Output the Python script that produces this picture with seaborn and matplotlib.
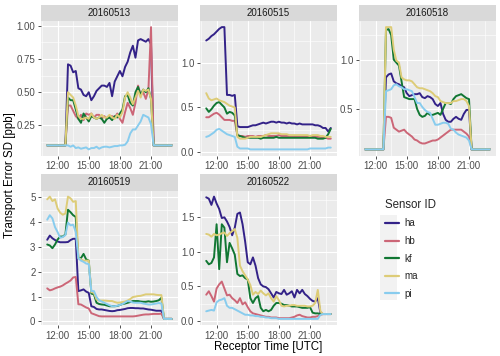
import numpy as np
import pandas as pd
import matplotlib
matplotlib.use("Agg")
import matplotlib.pyplot as plt
from matplotlib.ticker import FixedLocator, MultipleLocator, FuncFormatter
from matplotlib.patches import Rectangle
import seaborn as sns

# receptor time grid (hours UTC, 15 min steps)
hours = np.arange(11.0, 23.01, 0.25)

days = ["20160513", "20160515", "20160518", "20160519", "20160522"]
sensors = ["ha", "hb", "kf", "ma", "pi"]
sensor_colors = ["#332288", "#CC6677", "#117733", "#DDCC77", "#88CCEE"]

# --- 20160513 ---
d0513_ha = [0.10, 0.10, 0.10, 0.10, 0.10, 0.10, 0.10, 0.10,
            0.71, 0.70, 0.65, 0.66, 0.53, 0.52, 0.48, 0.47, 0.50, 0.44, 0.47, 0.51,
            0.53, 0.55, 0.55, 0.54, 0.57, 0.47, 0.58, 0.62, 0.66, 0.62, 0.69, 0.73,
            0.80, 0.85, 0.76, 0.89, 0.90, 0.89, 0.88, 0.90, 0.86,
            0.10, 0.10, 0.10, 0.10, 0.10, 0.10, 0.10, 0.10]
d0513_hb = [0.10, 0.10, 0.10, 0.10, 0.10, 0.10, 0.10, 0.10,
            0.40, 0.40, 0.36, 0.32, 0.30, 0.33, 0.29, 0.34, 0.33, 0.34, 0.31, 0.33,
            0.33, 0.30, 0.32, 0.30, 0.32, 0.32, 0.31, 0.34, 0.30, 0.27, 0.35, 0.42,
            0.38, 0.33, 0.42, 0.55, 0.48, 0.50, 0.45, 0.52, 0.99,
            0.10, 0.10, 0.10, 0.10, 0.10, 0.10, 0.10, 0.10]
d0513_kf = [0.10, 0.10, 0.10, 0.10, 0.10, 0.10, 0.10, 0.10,
            0.46, 0.44, 0.44, 0.37, 0.30, 0.27, 0.34, 0.31, 0.28, 0.32, 0.31, 0.30,
            0.31, 0.30, 0.27, 0.30, 0.31, 0.29, 0.32, 0.31, 0.34, 0.37, 0.47, 0.48,
            0.42, 0.40, 0.50, 0.54, 0.48, 0.52, 0.50, 0.53, 0.45,
            0.10, 0.10, 0.10, 0.10, 0.10, 0.10, 0.10, 0.10]
d0513_ma = [0.10, 0.10, 0.10, 0.10, 0.10, 0.10, 0.10, 0.10,
            0.50, 0.48, 0.46, 0.40, 0.32, 0.30, 0.30, 0.31, 0.30, 0.34, 0.31, 0.30,
            0.31, 0.33, 0.31, 0.31, 0.33, 0.31, 0.30, 0.33, 0.31, 0.35, 0.46, 0.50,
            0.46, 0.41, 0.46, 0.51, 0.46, 0.52, 0.51, 0.52, 0.45,
            0.10, 0.10, 0.10, 0.10, 0.10, 0.10, 0.10, 0.10]
d0513_pi = [0.10, 0.10, 0.10, 0.10, 0.10, 0.10, 0.10, 0.10,
            0.10, 0.09, 0.10, 0.08, 0.085, 0.075, 0.08, 0.085, 0.07, 0.08, 0.08, 0.09,
            0.075, 0.085, 0.09, 0.09, 0.085, 0.09, 0.095, 0.095, 0.10, 0.10, 0.105, 0.13,
            0.19, 0.22, 0.22, 0.25, 0.28, 0.33, 0.32, 0.31, 0.26,
            0.10, 0.10, 0.10, 0.10, 0.10, 0.10, 0.10, 0.10]

# --- 20160515 ---
d0515_ha = [1.25, 1.27, 1.30, 1.32, 1.35, 1.38, 1.40, 1.40,
            0.64, 0.64, 0.63, 0.64, 0.29, 0.28, 0.28, 0.28, 0.28, 0.29, 0.30, 0.30,
            0.31, 0.32, 0.33, 0.32, 0.33, 0.34, 0.34, 0.33, 0.34, 0.33, 0.33, 0.32,
            0.33, 0.32, 0.32, 0.31, 0.32, 0.31, 0.31, 0.31, 0.31,
            0.31, 0.30, 0.30, 0.29, 0.27, 0.27, 0.23, 0.27]
d0515_hb = [0.39, 0.39, 0.41, 0.43, 0.44, 0.42, 0.39, 0.36,
            0.36, 0.36, 0.35, 0.35, 0.19, 0.18, 0.18, 0.17, 0.18, 0.18, 0.18, 0.17,
            0.18, 0.18, 0.18, 0.19, 0.18, 0.18, 0.18, 0.18, 0.19, 0.18, 0.18, 0.18,
            0.18, 0.18, 0.18, 0.17, 0.18, 0.18, 0.17, 0.18, 0.18,
            0.17, 0.17, 0.17, 0.17, 0.16, 0.16, 0.15, 0.15]
d0515_kf = [0.49, 0.45, 0.48, 0.52, 0.55, 0.56, 0.53, 0.50,
            0.43, 0.45, 0.44, 0.41, 0.19, 0.18, 0.17, 0.16, 0.16, 0.16, 0.16, 0.16,
            0.16, 0.15, 0.16, 0.16, 0.16, 0.16, 0.16, 0.17, 0.16, 0.16, 0.16, 0.16,
            0.16, 0.16, 0.16, 0.16, 0.16, 0.16, 0.16, 0.16, 0.16,
            0.16, 0.16, 0.15, 0.15, 0.15, 0.16, 0.20, 0.26]
d0515_ma = [0.66, 0.60, 0.58, 0.59, 0.60, 0.58, 0.57, 0.56,
            0.54, 0.52, 0.51, 0.50, 0.17, 0.15, 0.15, 0.15, 0.16, 0.17, 0.17, 0.17,
            0.17, 0.17, 0.18, 0.19, 0.20, 0.21, 0.21, 0.21, 0.21, 0.20, 0.20, 0.20,
            0.19, 0.19, 0.19, 0.19, 0.19, 0.19, 0.19, 0.19, 0.18,
            0.19, 0.19, 0.19, 0.18, 0.18, 0.17, 0.17, 0.17]
d0515_pi = [0.17, 0.18, 0.20, 0.22, 0.25, 0.26, 0.24, 0.22,
            0.20, 0.19, 0.18, 0.17, 0.06, 0.04, 0.04, 0.04, 0.04, 0.03, 0.03, 0.03,
            0.03, 0.03, 0.03, 0.03, 0.03, 0.03, 0.03, 0.03, 0.03, 0.03, 0.03, 0.03,
            0.03, 0.03, 0.03, 0.03, 0.03, 0.03, 0.03, 0.03, 0.04,
            0.04, 0.04, 0.04, 0.04, 0.04, 0.04, 0.05, 0.05]

# --- 20160518 ---
d0518_ha = [0.09, 0.09, 0.09, 0.09, 0.09, 0.09, 0.09, 0.09,
            0.82, 0.85, 0.86, 0.78, 0.76, 0.75, 0.73, 0.72, 0.66, 0.63, 0.64, 0.65,
            0.65, 0.66, 0.62, 0.61, 0.63, 0.62, 0.60, 0.55, 0.53, 0.56, 0.45, 0.39,
            0.37, 0.37, 0.40, 0.42, 0.40, 0.39, 0.45, 0.49, 0.49,
            0.09, 0.09, 0.09, 0.09, 0.09, 0.09, 0.09, 0.09]
d0518_hb = [0.09, 0.09, 0.09, 0.09, 0.09, 0.09, 0.09, 0.09,
            0.42, 0.42, 0.41, 0.31, 0.29, 0.27, 0.28, 0.29, 0.26, 0.24, 0.22, 0.19,
            0.18, 0.16, 0.15, 0.15, 0.16, 0.17, 0.18, 0.18, 0.19, 0.21, 0.23, 0.25,
            0.27, 0.29, 0.29, 0.29, 0.29, 0.29, 0.27, 0.25, 0.22,
            0.09, 0.09, 0.09, 0.09, 0.09, 0.09, 0.09, 0.09]
d0518_kf = [0.09, 0.09, 0.09, 0.09, 0.09, 0.09, 0.09, 0.09,
            1.30, 1.31, 1.25, 1.00, 0.97, 0.94, 0.78, 0.62, 0.61, 0.60, 0.60, 0.60,
            0.50, 0.44, 0.42, 0.43, 0.46, 0.44, 0.44, 0.45, 0.46, 0.44, 0.50, 0.56,
            0.56, 0.55, 0.60, 0.63, 0.64, 0.65, 0.63, 0.61, 0.60,
            0.09, 0.09, 0.09, 0.09, 0.09, 0.09, 0.09, 0.09]
d0518_ma = [0.09, 0.09, 0.09, 0.09, 0.09, 0.09, 0.09, 0.09,
            1.33, 1.33, 1.33, 1.10, 0.99, 0.97, 0.82, 0.80, 0.79, 0.79, 0.78, 0.75,
            0.72, 0.71, 0.71, 0.70, 0.69, 0.68, 0.66, 0.63, 0.62, 0.58, 0.57, 0.56,
            0.56, 0.56, 0.58, 0.58, 0.59, 0.60, 0.60, 0.58, 0.53,
            0.09, 0.09, 0.09, 0.09, 0.09, 0.09, 0.09, 0.09]
d0518_pi = [0.09, 0.09, 0.09, 0.09, 0.09, 0.09, 0.09, 0.09,
            0.68, 0.69, 0.70, 0.74, 0.75, 0.73, 0.72, 0.70, 0.70, 0.69, 0.68, 0.62,
            0.56, 0.56, 0.52, 0.49, 0.47, 0.46, 0.40, 0.34, 0.34, 0.35, 0.36, 0.36,
            0.35, 0.30, 0.29, 0.26, 0.24, 0.23, 0.22, 0.21, 0.18,
            0.09, 0.09, 0.09, 0.09, 0.09, 0.09, 0.09, 0.09]

# --- 20160519 ---
d0519_ha = [3.29, 3.46, 3.35, 3.28, 3.22, 3.19, 3.19, 3.19,
            3.20, 3.28, 3.33, 3.33, 1.22, 1.25, 1.29, 1.20, 1.15, 0.61, 0.58, 0.50,
            0.48, 0.48, 0.46, 0.44, 0.42, 0.41, 0.42, 0.45, 0.46, 0.48, 0.50, 0.53,
            0.54, 0.54, 0.53, 0.53, 0.52, 0.52, 0.50, 0.48, 0.47,
            0.45, 0.43, 0.43, 0.43, 0.10, 0.10, 0.10, 0.10]
d0519_hb = [1.33, 1.25, 1.28, 1.33, 1.37, 1.40, 1.45, 1.52,
            1.58, 1.65, 1.77, 1.79, 0.69, 0.68, 0.62, 0.56, 0.52, 0.33, 0.29, 0.25,
            0.21, 0.20, 0.20, 0.20, 0.20, 0.20, 0.20, 0.20, 0.20, 0.20, 0.20, 0.20,
            0.20, 0.20, 0.21, 0.23, 0.25, 0.27, 0.28, 0.28, 0.29,
            0.30, 0.30, 0.30, 0.31, 0.10, 0.10, 0.10, 0.10]
d0519_kf = [3.10, 3.06, 2.95, 3.10, 3.30, 3.42, 3.42, 3.50,
            4.50, 4.40, 4.28, 4.21, 2.55, 2.55, 2.72, 2.50, 2.45, 1.12, 1.09, 0.75,
            0.70, 0.68, 0.67, 0.64, 0.61, 0.61, 0.61, 0.62, 0.66, 0.70, 0.72, 0.75,
            0.78, 0.82, 0.82, 0.82, 0.80, 0.79, 0.79, 0.81, 0.79,
            0.80, 0.82, 0.85, 0.95, 0.10, 0.10, 0.10, 0.10]
d0519_ma = [4.92, 5.03, 4.85, 4.92, 4.55, 4.38, 4.30, 4.35,
            5.03, 4.96, 4.82, 4.85, 2.55, 2.50, 2.45, 2.45, 2.45, 1.18, 1.15, 0.88,
            0.84, 0.84, 0.84, 0.83, 0.82, 0.82, 0.78, 0.75, 0.76, 0.78, 0.80, 0.84,
            0.90, 0.98, 1.00, 1.02, 1.03, 1.06, 1.09, 1.09, 1.09,
            1.09, 1.07, 1.06, 1.06, 0.10, 0.10, 0.10, 0.10]
d0519_pi = [4.10, 4.28, 4.15, 3.80, 3.60, 3.37, 3.40, 3.48,
            3.98, 3.87, 3.90, 3.60, 2.55, 2.45, 2.40, 2.33, 2.31, 1.22, 1.22, 0.98,
            0.85, 0.80, 0.75, 0.70, 0.65, 0.61, 0.61, 0.63, 0.66, 0.70, 0.76, 0.82,
            0.80, 0.76, 0.75, 0.75, 0.75, 0.72, 0.70, 0.68, 0.68,
            0.70, 0.72, 0.74, 0.72, 0.10, 0.10, 0.10, 0.10]

# --- 20160522 ---
d0522_ha = [1.79, 1.77, 1.68, 1.80, 1.70, 1.62, 1.49, 1.50,
            1.44, 1.36, 1.24, 1.35, 1.55, 1.57, 1.40, 1.15, 0.85, 0.82, 0.92, 0.80,
            0.62, 0.53, 0.50, 0.49, 0.46, 0.40, 0.34, 0.42, 0.40, 0.39, 0.45, 0.38,
            0.40, 0.43, 0.34, 0.45, 0.40, 0.45, 0.39, 0.36, 0.32,
            0.29, 0.28, 0.33, 0.12, 0.10, 0.10, 0.10, 0.10]
d0522_hb = [0.38, 0.43, 0.36, 0.28, 0.47, 0.53, 0.57, 0.47,
            0.37, 0.38, 0.33, 0.30, 0.26, 0.33, 0.24, 0.27, 0.20, 0.14, 0.11, 0.10,
            0.09, 0.08, 0.07, 0.06, 0.06, 0.05, 0.05, 0.05, 0.04, 0.04, 0.04, 0.04,
            0.04, 0.05, 0.06, 0.08, 0.09, 0.07, 0.06, 0.05, 0.05,
            0.06, 0.06, 0.07, 0.09, 0.10, 0.10, 0.10, 0.10]
d0522_kf = [0.87, 0.82, 0.84, 0.92, 1.40, 0.75, 1.40, 1.35,
            0.85, 1.13, 1.05, 0.96, 0.68, 0.65, 0.66, 0.62, 0.60, 0.33, 0.26, 0.33,
            0.36, 0.19, 0.14, 0.16, 0.14, 0.16, 0.22, 0.26, 0.26, 0.25, 0.23, 0.23,
            0.22, 0.21, 0.21, 0.21, 0.20, 0.19, 0.19, 0.19, 0.20,
            0.12, 0.11, 0.11, 0.10, 0.10, 0.10, 0.10, 0.10]
d0522_ma = [1.26, 1.25, 1.22, 1.26, 1.24, 1.25, 1.27, 1.28,
            1.23, 1.27, 1.30, 1.33, 1.20, 0.80, 0.72, 0.66, 0.60, 0.52, 0.38, 0.42,
            0.39, 0.44, 0.40, 0.37, 0.40, 0.33, 0.28, 0.36, 0.30, 0.22, 0.21, 0.22,
            0.22, 0.23, 0.23, 0.22, 0.22, 0.22, 0.22, 0.21, 0.21,
            0.22, 0.26, 0.45, 0.14, 0.10, 0.10, 0.10, 0.10]
d0522_pi = [0.14, 0.15, 0.16, 0.15, 0.27, 0.30, 0.31, 0.33,
            0.22, 0.19, 0.19, 0.17, 0.15, 0.13, 0.11, 0.09, 0.09, 0.08, 0.08, 0.07,
            0.07, 0.06, 0.06, 0.05, 0.05, 0.04, 0.04, 0.04, 0.03, 0.03, 0.03, 0.03,
            0.03, 0.03, 0.03, 0.03, 0.03, 0.03, 0.03, 0.03, 0.03,
            0.03, 0.03, 0.03, 0.09, 0.10, 0.10, 0.10, 0.10]

# y tick positions per panel (free scales)
yticks = {
    "20160513": [0.25, 0.50, 0.75, 1.00],
    "20160515": [0.0, 0.5, 1.0],
    "20160518": [0.5, 1.0],
    "20160519": [0, 1, 2, 3, 4, 5],
    "20160522": [0.0, 0.5, 1.0, 1.5],
}
ytick_fmt = {"20160513": "{:.2f}", "20160515": "{:.1f}", "20160518": "{:.1f}",
             "20160519": "{:.0f}", "20160522": "{:.1f}"}
xticks = [12, 15, 18, 21]

series = {
    "20160513": [d0513_ha, d0513_hb, d0513_kf, d0513_ma, d0513_pi],
    "20160515": [d0515_ha, d0515_hb, d0515_kf, d0515_ma, d0515_pi],
    "20160518": [d0518_ha, d0518_hb, d0518_kf, d0518_ma, d0518_pi],
    "20160519": [d0519_ha, d0519_hb, d0519_kf, d0519_ma, d0519_pi],
    "20160522": [d0522_ha, d0522_hb, d0522_kf, d0522_ma, d0522_pi],
}

rows = []
for day, vals in series.items():
    for sensor, v in zip(sensors, vals):
        for h, y in zip(hours, v):
            rows.append((day, sensor, h, y))
df = pd.DataFrame(rows, columns=["day", "sensor", "hour", "sd"])

sns.set_theme(style="darkgrid", rc={
    "axes.facecolor": "#EBEBEB",
    "grid.color": "white",
    "axes.edgecolor": "none",
    "xtick.color": "#333333",
    "ytick.color": "#333333",
    "xtick.labelcolor": "#4D4D4D",
    "ytick.labelcolor": "#4D4D4D",
})
plt.rcParams["font.family"] = ["Liberation Sans", "DejaVu Sans"]

W, H = 500, 356
fig = plt.figure(figsize=(W / 100, H / 100), dpi=100)

col_left = [41, 200, 359]
row_top = [21, 190.5]
pw, ph, sh = 137, 134.5, 16.5

fmt_hour = FuncFormatter(lambda v, p: f"{int(round(v)):02d}:00")

for i, day in enumerate(days):
    r, c = divmod(i, 3)
    x0, y0 = col_left[c], row_top[r]
    ax = fig.add_axes([x0 / W, 1 - (y0 + ph) / H, pw / W, ph / H])
    sub = df[df["day"] == day]
    sns.lineplot(data=sub, x="hour", y="sd", hue="sensor", hue_order=sensors,
                 palette=sensor_colors, estimator=None, lw=1.4, ax=ax,
                 legend=(i == 4))
    ax.margins(x=0.05, y=0.05)
    ax.set_xlabel("")
    ax.set_ylabel("")

    ax.xaxis.set_major_locator(FixedLocator(xticks))
    ax.xaxis.set_minor_locator(MultipleLocator(1.5))
    ax.xaxis.set_major_formatter(fmt_hour)
    yt = yticks[day]
    ax.yaxis.set_major_locator(FixedLocator(yt))
    ax.yaxis.set_minor_locator(MultipleLocator((yt[1] - yt[0]) / 2))
    ax.yaxis.set_major_formatter(FuncFormatter(lambda v, p, f=ytick_fmt[day]: f.format(v)))

    ax.grid(which="major", color="white", lw=0.8)
    ax.grid(which="minor", color="white", lw=0.4)
    ax.tick_params(which="major", length=2.5, width=0.6, pad=1.5, labelsize=7,
                   bottom=True, left=True)
    ax.tick_params(which="minor", length=0)
    for s in ax.spines.values():
        s.set_visible(False)

    # facet strip
    sax = fig.add_axes([x0 / W, 1 - y0 / H, pw / W, sh / H])
    sax.set_facecolor("#D9D9D9")
    sax.set_xticks([])
    sax.set_yticks([])
    sax.grid(False)
    for s in sax.spines.values():
        s.set_visible(False)
    sax.text(0.5, 0.5, day, ha="center", va="center", fontsize=7, color="#1A1A1A",
             transform=sax.transAxes)

    if i == 4:
        handles, labels = ax.get_legend_handles_labels()
        ax.get_legend().remove()

fig.text(268.5 / W, 1 - 347 / H, "Receptor Time [UTC]", ha="center", va="center",
         fontsize=8.3, color="black")
fig.text(10 / W, 1 - 175 / H, "Transport Error SD [ppb]", ha="center", va="center",
         rotation=90, fontsize=8.3, color="black")

# legend with grey key boxes
fig.patches.append(Rectangle((380 / W, 1 - 300 / H), 17 / W, 85 / H,
                             transform=fig.transFigure, facecolor="#F2F2F2",
                             edgecolor="none", zorder=0))
for hnd in handles:
    hnd.set_linewidth(1.6)
leg = fig.legend(handles, labels, title="Sensor ID", loc="upper left",
                 bbox_to_anchor=(376 / W, 1 - 190 / H), frameon=False,
                 fontsize=7, title_fontsize=8.3, handlelength=1.45,
                 handletextpad=0.6, labelspacing=0.78, alignment="left")

fig.savefig("out.png", dpi=100)
